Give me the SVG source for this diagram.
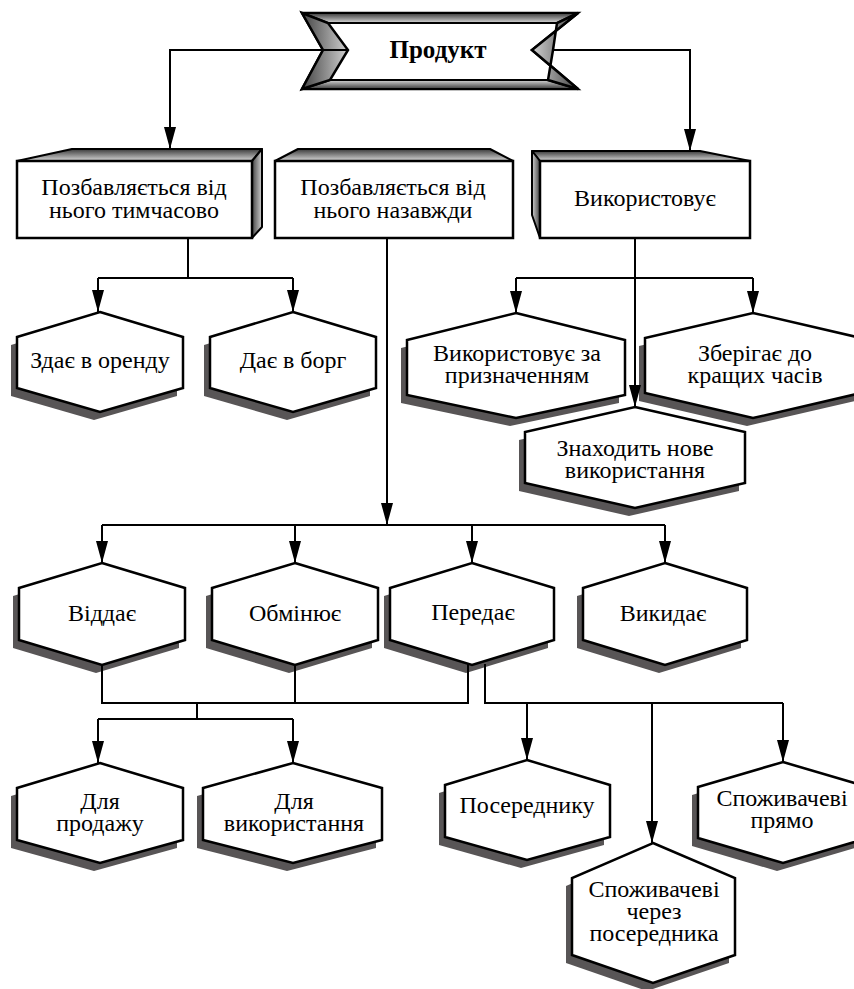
<svg xmlns="http://www.w3.org/2000/svg" width="854" height="989" viewBox="0 0 854 989">
<defs>
<linearGradient id="gv" x1="0" y1="0" x2="0" y2="1"><stop offset="0" stop-color="#3a3a3a"/><stop offset="1" stop-color="#d8d8d8"/></linearGradient>
<linearGradient id="gvr" x1="0" y1="1" x2="0" y2="0"><stop offset="0" stop-color="#3a3a3a"/><stop offset="1" stop-color="#d8d8d8"/></linearGradient>
<linearGradient id="gh" x1="0" y1="0" x2="1" y2="0"><stop offset="0" stop-color="#444"/><stop offset="1" stop-color="#d0d0d0"/></linearGradient>
<linearGradient id="ghr" x1="1" y1="0" x2="0" y2="0"><stop offset="0" stop-color="#444"/><stop offset="1" stop-color="#d0d0d0"/></linearGradient>
<marker id="ar" markerUnits="userSpaceOnUse" markerWidth="22" markerHeight="12" refX="22" refY="6" orient="auto"><path d="M0,0 L22,6 L0,12 z" fill="#000"/></marker>
</defs>
<style>
.hx{fill:#fff;stroke:#000;stroke-width:2.5;stroke-linejoin:miter}
.sh{fill:#585556}
.bx{fill:#fff;stroke:#000;stroke-width:2.5}
.fc{stroke:#000;stroke-width:2;stroke-linejoin:round}
.t{font-family:"Liberation Serif","Times New Roman","DejaVu Serif",serif;font-size:24px;fill:#000;text-anchor:middle}
.c{fill:none;stroke:#000;stroke-width:2}
.a{marker-end:url(#ar)}
</style>

<g id="product">
<polygon points="302,13 578,13 532,50 578,89 302,89 323,50" fill="#fff" stroke="#000" stroke-width="2.5"/>
<polygon points="302,13 578,13 557,23 328,23" fill="url(#gv)" stroke="#000" stroke-width="2"/>
<polygon points="330,80 548,80 578,89 302,89" fill="url(#gvr)" stroke="#000" stroke-width="2"/>
<polygon points="302,13 328,23 348,50 330,80 302,89 323,50" fill="url(#gh)" stroke="#000" stroke-width="2.5"/>
<polygon points="578,13 532,50 578,89 548,80 553,50 557,23" fill="url(#ghr)" stroke="#000" stroke-width="2.5"/>
<text class="t" x="438" y="58" style="font-size:25px;font-weight:bold">Продукт</text>
</g>

<g id="box-temp">
<polygon class="fc" points="17,161 72,149 262,149 252,161" fill="url(#gv)"/>
<polygon class="fc" points="252,161 262,149 262,227 252,238" fill="url(#gh)"/>
<rect class="bx" x="17" y="161" width="235" height="77"/>
<text class="t" x="134" y="195">Позбавляється від</text>
<text class="t" x="134" y="218">нього тимчасово</text>
</g>

<g id="box-forever">
<polygon class="fc" points="275,161 298,149 490,149 513,161" fill="url(#gv)"/>
<rect class="bx" x="275" y="161" width="238" height="77"/>
<text class="t" x="393" y="195">Позбавляється від</text>
<text class="t" x="393" y="218">нього назавжди</text>
</g>

<g id="box-uses">
<polygon class="fc" points="540,161 532,151 700,151 750,161" fill="url(#gv)"/>
<polygon class="fc" points="540,161 532,151 532,215 540,238" fill="url(#ghr)"/>
<rect class="bx" x="540" y="161" width="210" height="77"/>
<text class="t" x="645" y="206">Використовує</text>
</g>

<g id="hex-rent">
<polygon class="sh" transform="translate(-6,8)" points="100,312 183,337 183,388 100,412 17,388 17,337"/>
<polygon class="hx" points="100,312 183,337 183,388 100,412 17,388 17,337"/>
<text class="t" x="100" y="368">Здає в оренду</text>
</g>
<g id="hex-loan">
<polygon class="sh" transform="translate(-6,8)" points="293,312 376,337 376,388 293,412 210,388 210,337"/>
<polygon class="hx" points="293,312 376,337 376,388 293,412 210,388 210,337"/>
<text class="t" x="293" y="368">Дає в борг</text>
</g>
<g id="hex-purpose">
<polygon class="sh" transform="translate(-6,8)" points="516,313 625,340 625,395 516,418 407,395 407,340"/>
<polygon class="hx" points="516,313 625,340 625,395 516,418 407,395 407,340"/>
<text class="t" x="517" y="361">Використовує за</text>
<text class="t" x="517" y="383">призначенням</text>
</g>
<g id="hex-keep">
<polygon class="sh" transform="translate(-6,8)" points="753,313 861,338 861,393 753,418 645,393 645,338"/>
<polygon class="hx" points="753,313 861,338 861,393 753,418 645,393 645,338"/>
<text class="t" x="755" y="361">Зберігає до</text>
<text class="t" x="755" y="383">кращих часів</text>
</g>
<g id="hex-new">
<polygon class="sh" transform="translate(-6,8)" points="635,407 745,432 745,483 635,508 525,483 525,432"/>
<polygon class="hx" points="635,407 745,432 745,483 635,508 525,483 525,432"/>
<text class="t" x="635" y="456">Знаходить нове</text>
<text class="t" x="635" y="478">використання</text>
</g>

<g id="hex-give">
<polygon class="sh" transform="translate(-6,8)" points="102,563 185,588 185,640 102,665 19,640 19,588"/>
<polygon class="hx" points="102,563 185,588 185,640 102,665 19,640 19,588"/>
<text class="t" x="102" y="621">Віддає</text>
</g>
<g id="hex-exchange">
<polygon class="sh" transform="translate(-6,8)" points="295,563 378,588 378,640 295,665 212,640 212,588"/>
<polygon class="hx" points="295,563 378,588 378,640 295,665 212,640 212,588"/>
<text class="t" x="295" y="621">Обмінює</text>
</g>
<g id="hex-transfer">
<polygon class="sh" transform="translate(-6,8)" points="472,563 554,588 554,640 472,665 390,640 390,588"/>
<polygon class="hx" points="472,563 554,588 554,640 472,665 390,640 390,588"/>
<text class="t" x="473" y="620">Передає</text>
</g>
<g id="hex-throw">
<polygon class="sh" transform="translate(-6,8)" points="665,563 747,588 747,640 665,665 583,640 583,588"/>
<polygon class="hx" points="665,563 747,588 747,640 665,665 583,640 583,588"/>
<text class="t" x="663" y="621">Викидає</text>
</g>

<g id="hex-sale">
<polygon class="sh" transform="translate(-6,8)" points="100,763 183,788 183,840 100,863 17,840 17,788"/>
<polygon class="hx" points="100,763 183,788 183,840 100,863 17,840 17,788"/>
<text class="t" x="100" y="809">Для</text>
<text class="t" x="100" y="831">продажу</text>
</g>
<g id="hex-use">
<polygon class="sh" transform="translate(-6,8)" points="293,763 382,788 382,840 293,863 203,840 203,788"/>
<polygon class="hx" points="293,763 382,788 382,840 293,863 203,840 203,788"/>
<text class="t" x="294" y="809">Для</text>
<text class="t" x="294" y="831">використання</text>
</g>
<g id="hex-agent">
<polygon class="sh" transform="translate(-6,8)" points="527,760 610,785 610,837 527,860 445,837 445,785"/>
<polygon class="hx" points="527,760 610,785 610,837 527,860 445,837 445,785"/>
<text class="t" x="527" y="813">Посереднику</text>
</g>
<g id="hex-via">
<polygon class="sh" transform="translate(-6,8)" points="653,843 735,878 735,955 653,983 572,955 572,878"/>
<polygon class="hx" points="653,843 735,878 735,955 653,983 572,955 572,878"/>
<text class="t" x="654" y="897">Споживачеві</text>
<text class="t" x="654" y="919">через</text>
<text class="t" x="654" y="941">посередника</text>
</g>
<g id="hex-direct">
<polygon class="sh" transform="translate(-6,8)" points="783,762 868,787 868,838 783,863 698,838 698,787"/>
<polygon class="hx" points="783,762 868,787 868,838 783,863 698,838 698,787"/>
<text class="t" x="782" y="806">Споживачеві</text>
<text class="t" x="782" y="828">прямо</text>
</g>

<g id="connectors">
<path class="c a" d="M348,50 H170 V149"/>
<path class="c a" d="M553,50 H690 V151"/>
<path class="c" d="M188,238 V278 M98,278 H293"/>
<path class="c a" d="M98,278 V312"/>
<path class="c a" d="M293,278 V312"/>
<path class="c a" d="M635,238 V407"/>
<path class="c" d="M516,278 H753"/>
<path class="c a" d="M516,278 V313"/>
<path class="c a" d="M753,278 V313"/>
<path class="c a" d="M387,238 V525"/>
<path class="c" d="M102,525 H665"/>
<path class="c a" d="M102,525 V563"/>
<path class="c a" d="M295,525 V563"/>
<path class="c a" d="M472,525 V563"/>
<path class="c a" d="M665,525 V563"/>
<path class="c" d="M102,665 V703 H468 V664 M295,665 V703 M197,703 V719 M98,719 H293"/>
<path class="c a" d="M98,719 V763"/>
<path class="c a" d="M293,719 V763"/>
<path class="c" d="M485,664 V703 H783"/>
<path class="c a" d="M527,703 V760"/>
<path class="c a" d="M652,703 V843"/>
<path class="c a" d="M783,703 V762"/>
</g>
</svg>
